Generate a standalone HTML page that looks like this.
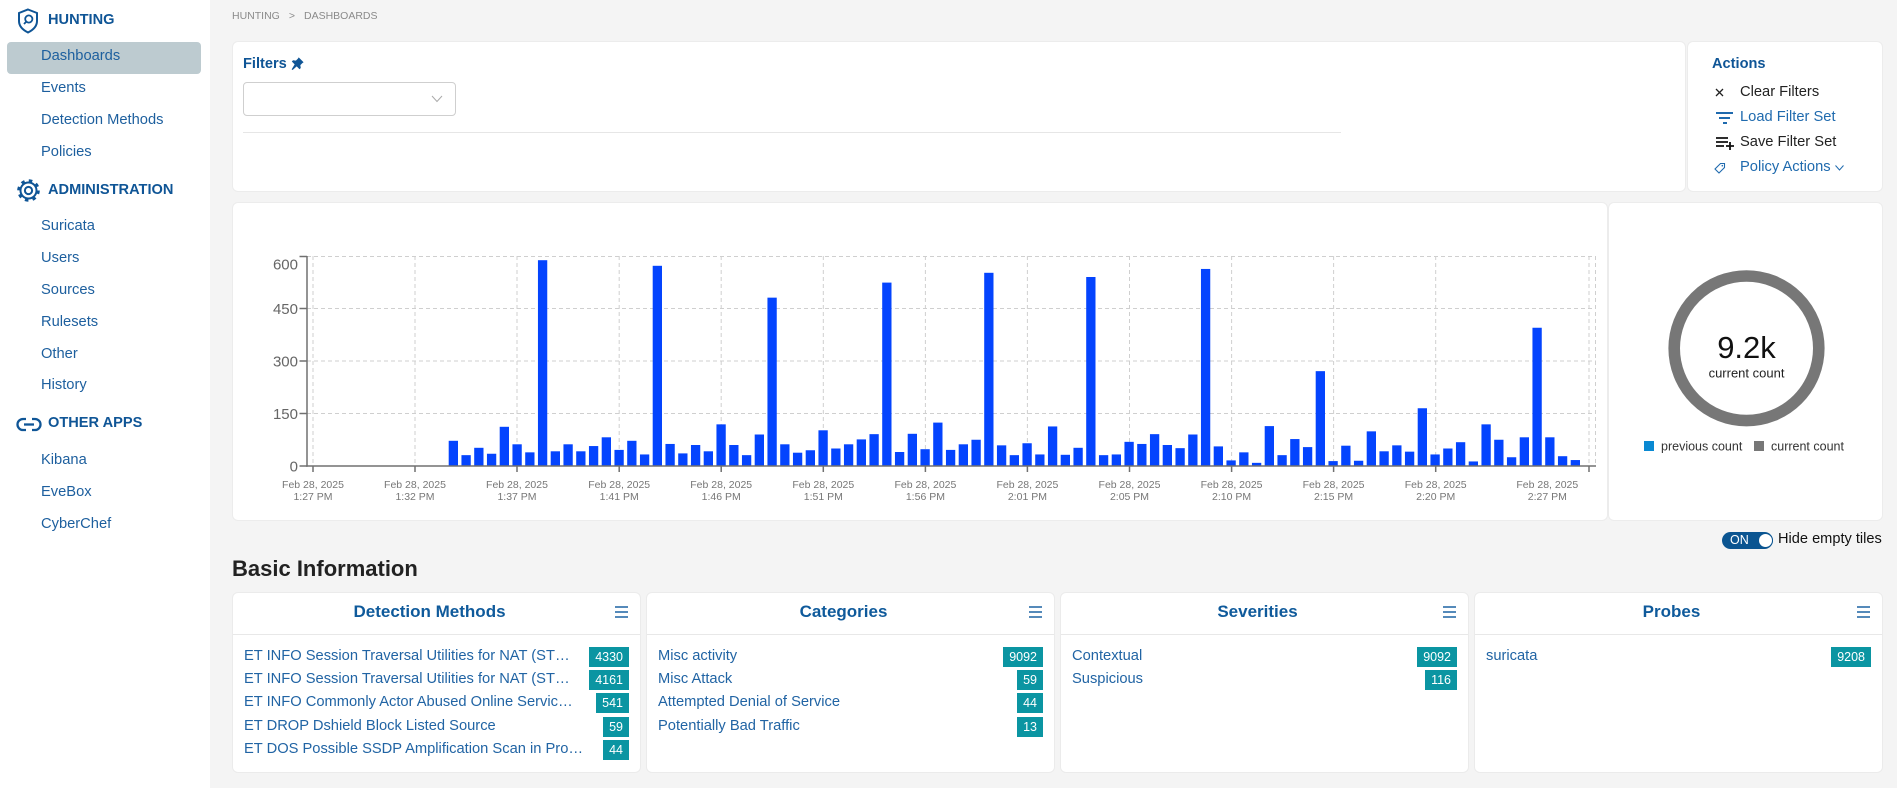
<!DOCTYPE html>
<html><head><meta charset="utf-8">
<style>
*{box-sizing:border-box;margin:0;padding:0}
html,body{width:1897px;height:788px;overflow:hidden}
body{position:relative;background:#f4f4f4;font-family:"Liberation Sans",Arial,sans-serif;color:#222}
.abs{position:absolute}
#side{position:absolute;left:0;top:0;width:210px;height:788px;background:#fff}
.sh{position:absolute;left:48px;font-weight:bold;font-size:14.6px;line-height:20px;color:#0f5596;white-space:nowrap}
.si{position:absolute;left:41px;font-size:14.7px;line-height:20px;color:#1d5f9e;white-space:nowrap}
.hl{position:absolute;left:7px;top:42px;width:194px;height:32px;background:#bdcbd0;border-radius:4px}
.card{position:absolute;background:#fff;border-radius:5px;box-shadow:0 0 0 1px #ececec}
.lbl{position:absolute;font-size:14.7px;line-height:20px;white-space:nowrap}
.tile{position:absolute;top:593px;width:407px;height:179px;background:#fff;border-radius:5px;box-shadow:0 0 0 1px #ebebeb}
.tile .t{position:absolute;left:11px;top:8px;width:371px;text-align:center;font-weight:bold;font-size:17px;line-height:22px;color:#0f5a9b}
.tile .m{position:absolute;left:382px;top:13px;width:13px;height:12px}
.tile .hr{position:absolute;left:0;right:0;top:41px;height:1px;background:#e8e8e8}
.row{position:absolute;left:11px;right:11px;height:20px;display:flex;align-items:center}
.row .n{flex:1;min-width:0;white-space:nowrap;overflow:hidden;text-overflow:ellipsis;font-size:14.7px;line-height:20px;color:#2164a4;margin-right:16px;position:relative;top:-1px}
.row .b{background:#0b95a2;color:#fff;font-size:12.5px;line-height:20px;height:20px;padding:0 6px;flex:none}
</style></head><body>

<div id="side">
  <svg class="abs" style="left:17px;top:8px" width="22" height="26" viewBox="0 0 22 26">
    <path d="M11 1.5 L20 5 V13 C20 18.5 16 22 11 24.5 C6 22 2 18.5 2 13 V5 Z" fill="none" stroke="#0f5596" stroke-width="2"/>
    <circle cx="11.8" cy="11" r="3.6" fill="none" stroke="#0f5596" stroke-width="1.8"/>
    <line x1="9.3" y1="13.6" x2="7" y2="16" stroke="#0f5596" stroke-width="1.8"/>
  </svg>
  <div class="sh" style="top:10px">HUNTING</div>
  <div class="hl"></div>
  <div class="si" style="top:46px">Dashboards</div>
  <div class="si" style="top:78px">Events</div>
  <div class="si" style="top:110px">Detection Methods</div>
  <div class="si" style="top:142px">Policies</div>

  <svg class="abs" style="left:17px;top:179px" width="23" height="23" viewBox="0 0 23 23">
    <circle cx="11.5" cy="11.5" r="8" fill="none" stroke="#0f5596" stroke-width="2"/>
    <circle cx="11.5" cy="11.5" r="9.6" fill="none" stroke="#0f5596" stroke-width="3.4" stroke-dasharray="3.4 4.14"/>
    <circle cx="11.5" cy="11.5" r="5.3" fill="#fff"/>
    <circle cx="11.5" cy="11.5" r="3.6" fill="none" stroke="#0f5596" stroke-width="2"/>
  </svg>
  <div class="sh" style="top:180px">ADMINISTRATION</div>
  <div class="si" style="top:216px">Suricata</div>
  <div class="si" style="top:248px">Users</div>
  <div class="si" style="top:280px">Sources</div>
  <div class="si" style="top:312px">Rulesets</div>
  <div class="si" style="top:344px">Other</div>
  <div class="si" style="top:375px">History</div>

  <svg class="abs" style="left:16px;top:417px" width="26" height="15" viewBox="0 0 26 15">
    <path d="M10 2 H7 A5.5 5.5 0 0 0 7 13 H10" fill="none" stroke="#0f5596" stroke-width="2.3"/>
    <path d="M16 2 H19 A5.5 5.5 0 0 1 19 13 H16" fill="none" stroke="#0f5596" stroke-width="2.3"/>
    <line x1="8" y1="7.5" x2="18" y2="7.5" stroke="#0f5596" stroke-width="2.3"/>
  </svg>
  <div class="sh" style="top:413px">OTHER APPS</div>
  <div class="si" style="top:450px">Kibana</div>
  <div class="si" style="top:482px">EveBox</div>
  <div class="si" style="top:514px">CyberChef</div>
</div>

<!-- breadcrumb -->
<div class="abs" style="left:232px;top:9px;font-size:10.5px;line-height:14px;color:#8a8a8a;white-space:nowrap">HUNTING<span style="margin:0 9px">&gt;</span>DASHBOARDS</div>

<!-- Filters card -->
<div class="card" style="left:233px;top:42px;width:1452px;height:149px"></div>
<div class="abs" style="left:243px;top:54px;font-weight:bold;font-size:14.6px;line-height:20px;color:#0f5596">Filters</div>
<svg class="abs" style="left:291px;top:57px" width="13" height="13" viewBox="0 0 16 16">
  <path d="M9.5 0.5 L15.5 6.5 L14 7.5 L11.5 10 L12 13.5 L10.5 15 L7 11.5 L2 16 L0.8 15.2 L4.5 9 L1 5.5 L2.5 4 L6 4.5 L8.5 2 Z" fill="#0f5596"/>
</svg>
<div class="abs" style="left:243px;top:82px;width:213px;height:34px;border:1px solid #cfcfcf;border-radius:4px;background:#fff"></div>
<svg class="abs" style="left:431px;top:95px" width="12" height="8" viewBox="0 0 12 8"><polyline points="1,1 6,6.5 11,1" fill="none" stroke="#aaa" stroke-width="1"/></svg>
<div class="abs" style="left:243px;top:132px;width:1098px;height:1px;background:#e6e6e6"></div>

<!-- Actions card -->
<div class="card" style="left:1688px;top:42px;width:194px;height:149px"></div>
<div class="abs" style="left:1712px;top:54px;font-weight:bold;font-size:14.6px;line-height:20px;color:#0f5596">Actions</div>
<svg class="abs" style="left:1714px;top:87px" width="12" height="12" viewBox="0 0 12 12"><path d="M2 2 L9 9 M9 2 L2 9" stroke="#222" stroke-width="1.3"/></svg>
<div class="lbl" style="left:1740px;top:82px;color:#222">Clear Filters</div>
<svg class="abs" style="left:1716px;top:111px" width="18" height="14" viewBox="0 0 18 14"><path d="M0 2 H17 M3 7 H14 M7 12 H11" stroke="#1f6aae" stroke-width="2"/></svg>
<div class="lbl" style="left:1740px;top:107px;color:#1f6aae">Load Filter Set</div>
<svg class="abs" style="left:1716px;top:136px" width="19" height="15" viewBox="0 0 19 15"><path d="M0 2 H12 M0 6 H12 M0 10 H8 M10 10 H18 M14 6 V14" stroke="#111" stroke-width="1.8"/></svg>
<div class="lbl" style="left:1740px;top:132px;color:#222">Save Filter Set</div>
<svg class="abs" style="left:1714px;top:162px" width="12" height="12" viewBox="0 0 12 12"><path d="M6.5 1.5 L10.5 1.5 L10.5 5.5 L5 11 L1 7 Z" fill="none" stroke="#1f6aae" stroke-width="1.1"/><circle cx="8.3" cy="3.7" r="0.8" fill="#1f6aae"/></svg>
<div class="lbl" style="left:1740px;top:157px;color:#1f6aae">Policy Actions</div>
<svg class="abs" style="left:1835px;top:165px" width="9" height="6" viewBox="0 0 9 6"><polyline points="0.5,0.5 4.5,5 8.5,0.5" fill="none" stroke="#1f6aae" stroke-width="1"/></svg>

<!-- Chart cards -->
<div class="card" style="left:233px;top:203px;width:1374px;height:317px"></div>
<div class="card" style="left:1609px;top:203px;width:273px;height:317px"></div>

<svg class="abs" style="left:0;top:0" width="1897" height="788" viewBox="0 0 1897 788" font-family="Liberation Sans, Arial, sans-serif">
  <g stroke="#cfcfcf" stroke-width="1" stroke-dasharray="4 3" fill="none">
    <line x1="307" y1="256.5" x2="1596" y2="256.5"/>
    <line x1="307" y1="308.5" x2="1596" y2="308.5"/>
    <line x1="307" y1="361" x2="1596" y2="361"/>
    <line x1="307" y1="413.5" x2="1596" y2="413.5"/>
    <line x1="313" y1="256" x2="313" y2="466"/>
    <line x1="415" y1="256" x2="415" y2="466"/>
    <line x1="517" y1="256" x2="517" y2="466"/>
    <line x1="619.2" y1="256" x2="619.2" y2="466"/>
    <line x1="721.2" y1="256" x2="721.2" y2="466"/>
    <line x1="823.3" y1="256" x2="823.3" y2="466"/>
    <line x1="925.4" y1="256" x2="925.4" y2="466"/>
    <line x1="1027.4" y1="256" x2="1027.4" y2="466"/>
    <line x1="1129.5" y1="256" x2="1129.5" y2="466"/>
    <line x1="1231.6" y1="256" x2="1231.6" y2="466"/>
    <line x1="1333.6" y1="256" x2="1333.6" y2="466"/>
    <line x1="1435.7" y1="256" x2="1435.7" y2="466"/>
    <line x1="1589" y1="256" x2="1589" y2="466"/>
    <line x1="1595.5" y1="256" x2="1595.5" y2="466"/>
  </g>
  <g fill="#0444fe">
    <rect x="448.7" y="440.8" width="9.3" height="25.2"/>
    <rect x="461.45" y="455.15" width="9.3" height="10.85"/>
    <rect x="474.2" y="447.8" width="9.3" height="18.2"/>
    <rect x="486.95" y="453.75" width="9.3" height="12.25"/>
    <rect x="499.7" y="426.8" width="9.3" height="39.2"/>
    <rect x="512.45" y="444.3" width="9.3" height="21.7"/>
    <rect x="525.2" y="452.35" width="9.3" height="13.65"/>
    <rect x="537.95" y="260.2" width="9.3" height="205.8"/>
    <rect x="550.7" y="451.3" width="9.3" height="14.7"/>
    <rect x="563.45" y="444.3" width="9.3" height="21.7"/>
    <rect x="576.2" y="451.3" width="9.3" height="14.7"/>
    <rect x="588.95" y="446.05" width="9.3" height="19.95"/>
    <rect x="601.7" y="437.3" width="9.3" height="28.7"/>
    <rect x="614.45" y="449.9" width="9.3" height="16.1"/>
    <rect x="627.2" y="440.8" width="9.3" height="25.2"/>
    <rect x="639.95" y="454.45" width="9.3" height="11.55"/>
    <rect x="652.7" y="265.8" width="9.3" height="200.2"/>
    <rect x="665.45" y="443.95" width="9.3" height="22.05"/>
    <rect x="678.2" y="453.4" width="9.3" height="12.6"/>
    <rect x="690.95" y="445" width="9.3" height="21"/>
    <rect x="703.7" y="451.3" width="9.3" height="14.7"/>
    <rect x="716.45" y="424.35" width="9.3" height="41.65"/>
    <rect x="729.2" y="445" width="9.3" height="21"/>
    <rect x="741.95" y="455.15" width="9.3" height="10.85"/>
    <rect x="754.7" y="434.5" width="9.3" height="31.5"/>
    <rect x="767.45" y="297.65" width="9.3" height="168.35"/>
    <rect x="780.2" y="444.3" width="9.3" height="21.7"/>
    <rect x="792.95" y="452.7" width="9.3" height="13.3"/>
    <rect x="805.7" y="450.25" width="9.3" height="15.75"/>
    <rect x="818.45" y="430.3" width="9.3" height="35.7"/>
    <rect x="831.2" y="448.5" width="9.3" height="17.5"/>
    <rect x="843.95" y="444.3" width="9.3" height="21.7"/>
    <rect x="856.7" y="439.4" width="9.3" height="26.6"/>
    <rect x="869.45" y="434.15" width="9.3" height="31.85"/>
    <rect x="882.2" y="282.6" width="9.3" height="183.4"/>
    <rect x="894.95" y="452" width="9.3" height="14"/>
    <rect x="907.7" y="433.8" width="9.3" height="32.2"/>
    <rect x="920.45" y="449.2" width="9.3" height="16.8"/>
    <rect x="933.2" y="422.6" width="9.3" height="43.4"/>
    <rect x="945.95" y="449.9" width="9.3" height="16.1"/>
    <rect x="958.7" y="444.3" width="9.3" height="21.7"/>
    <rect x="971.45" y="439.75" width="9.3" height="26.25"/>
    <rect x="984.2" y="272.8" width="9.3" height="193.2"/>
    <rect x="996.95" y="445.35" width="9.3" height="20.65"/>
    <rect x="1009.7" y="455.15" width="9.3" height="10.85"/>
    <rect x="1022.45" y="443.25" width="9.3" height="22.75"/>
    <rect x="1035.2" y="454.45" width="9.3" height="11.55"/>
    <rect x="1047.95" y="426.45" width="9.3" height="39.55"/>
    <rect x="1060.7" y="454.8" width="9.3" height="11.2"/>
    <rect x="1073.45" y="447.8" width="9.3" height="18.2"/>
    <rect x="1086.2" y="277" width="9.3" height="189"/>
    <rect x="1098.95" y="455.15" width="9.3" height="10.85"/>
    <rect x="1111.7" y="454.45" width="9.3" height="11.55"/>
    <rect x="1124.45" y="441.85" width="9.3" height="24.15"/>
    <rect x="1137.2" y="443.95" width="9.3" height="22.05"/>
    <rect x="1149.95" y="434.15" width="9.3" height="31.85"/>
    <rect x="1162.7" y="445" width="9.3" height="21"/>
    <rect x="1175.45" y="448.15" width="9.3" height="17.85"/>
    <rect x="1188.2" y="434.5" width="9.3" height="31.5"/>
    <rect x="1200.95" y="268.95" width="9.3" height="197.05"/>
    <rect x="1213.7" y="446.4" width="9.3" height="19.6"/>
    <rect x="1226.45" y="460.4" width="9.3" height="5.6"/>
    <rect x="1239.2" y="452.35" width="9.3" height="13.65"/>
    <rect x="1251.95" y="462.85" width="9.3" height="3.15"/>
    <rect x="1264.7" y="426.1" width="9.3" height="39.9"/>
    <rect x="1277.45" y="455.15" width="9.3" height="10.85"/>
    <rect x="1290.2" y="439.05" width="9.3" height="26.95"/>
    <rect x="1302.95" y="447.1" width="9.3" height="18.9"/>
    <rect x="1315.7" y="371.15" width="9.3" height="94.85"/>
    <rect x="1328.45" y="461.1" width="9.3" height="4.9"/>
    <rect x="1341.2" y="445.7" width="9.3" height="20.3"/>
    <rect x="1353.95" y="460.75" width="9.3" height="5.25"/>
    <rect x="1366.7" y="431.35" width="9.3" height="34.65"/>
    <rect x="1379.45" y="451.3" width="9.3" height="14.7"/>
    <rect x="1392.2" y="445.35" width="9.3" height="20.65"/>
    <rect x="1404.95" y="451.65" width="9.3" height="14.35"/>
    <rect x="1417.7" y="408.25" width="9.3" height="57.75"/>
    <rect x="1430.45" y="454.45" width="9.3" height="11.55"/>
    <rect x="1443.2" y="448.5" width="9.3" height="17.5"/>
    <rect x="1455.95" y="442.2" width="9.3" height="23.8"/>
    <rect x="1468.7" y="461.45" width="9.3" height="4.55"/>
    <rect x="1481.45" y="424.35" width="9.3" height="41.65"/>
    <rect x="1494.2" y="439.75" width="9.3" height="26.25"/>
    <rect x="1506.95" y="457.25" width="9.3" height="8.75"/>
    <rect x="1519.7" y="437.3" width="9.3" height="28.7"/>
    <rect x="1532.45" y="327.75" width="9.3" height="138.25"/>
    <rect x="1545.2" y="437.3" width="9.3" height="28.7"/>
    <rect x="1557.95" y="456.2" width="9.3" height="9.8"/>
    <rect x="1570.7" y="460.05" width="9.3" height="5.95"/>
  </g>
  <g stroke="#707070" stroke-width="1.5" fill="none">
    <line x1="307" y1="256" x2="307" y2="466.7"/>
    <line x1="306.3" y1="466" x2="1596" y2="466"/>
    <line x1="299.5" y1="256.5" x2="307" y2="256.5"/>
    <line x1="299.5" y1="308.5" x2="307" y2="308.5"/>
    <line x1="299.5" y1="361" x2="307" y2="361"/>
    <line x1="299.5" y1="413.5" x2="307" y2="413.5"/>
    <line x1="299.5" y1="466" x2="307" y2="466"/>
    <line x1="313" y1="466" x2="313" y2="472"/>
    <line x1="415" y1="466" x2="415" y2="472"/>
    <line x1="517" y1="466" x2="517" y2="472"/>
    <line x1="619.2" y1="466" x2="619.2" y2="472"/>
    <line x1="721.2" y1="466" x2="721.2" y2="472"/>
    <line x1="823.3" y1="466" x2="823.3" y2="472"/>
    <line x1="925.4" y1="466" x2="925.4" y2="472"/>
    <line x1="1027.4" y1="466" x2="1027.4" y2="472"/>
    <line x1="1129.5" y1="466" x2="1129.5" y2="472"/>
    <line x1="1231.6" y1="466" x2="1231.6" y2="472"/>
    <line x1="1333.6" y1="466" x2="1333.6" y2="472"/>
    <line x1="1435.7" y1="466" x2="1435.7" y2="472"/>
    <line x1="1589" y1="466" x2="1589" y2="472"/>
  </g>
  <g fill="#666" font-size="15" text-anchor="end">
    <text x="298" y="269.5">600</text>
    <text x="298" y="314">450</text>
    <text x="298" y="366.5">300</text>
    <text x="298" y="419">150</text>
    <text x="298" y="471.5">0</text>
  </g>
  <g fill="#777" font-size="10.5" text-anchor="middle">
    <text x="313" y="488">Feb 28, 2025</text><text x="313" y="500">1:27 PM</text>
    <text x="415" y="488">Feb 28, 2025</text><text x="415" y="500">1:32 PM</text>
    <text x="517" y="488">Feb 28, 2025</text><text x="517" y="500">1:37 PM</text>
    <text x="619.2" y="488">Feb 28, 2025</text><text x="619.2" y="500">1:41 PM</text>
    <text x="721.2" y="488">Feb 28, 2025</text><text x="721.2" y="500">1:46 PM</text>
    <text x="823.3" y="488">Feb 28, 2025</text><text x="823.3" y="500">1:51 PM</text>
    <text x="925.4" y="488">Feb 28, 2025</text><text x="925.4" y="500">1:56 PM</text>
    <text x="1027.4" y="488">Feb 28, 2025</text><text x="1027.4" y="500">2:01 PM</text>
    <text x="1129.5" y="488">Feb 28, 2025</text><text x="1129.5" y="500">2:05 PM</text>
    <text x="1231.6" y="488">Feb 28, 2025</text><text x="1231.6" y="500">2:10 PM</text>
    <text x="1333.6" y="488">Feb 28, 2025</text><text x="1333.6" y="500">2:15 PM</text>
    <text x="1435.7" y="488">Feb 28, 2025</text><text x="1435.7" y="500">2:20 PM</text>
    <text x="1547.3" y="488">Feb 28, 2025</text><text x="1547.3" y="500">2:27 PM</text>
  </g>

  <!-- donut -->
  <circle cx="1746.5" cy="348.3" r="72.3" fill="none" stroke="#777" stroke-width="11.6"/>
  <text x="1746.5" y="358" text-anchor="middle" font-size="31" fill="#111">9.2k</text>
  <text x="1746.5" y="377.5" text-anchor="middle" font-size="13" fill="#222">current count</text>
  <rect x="1644" y="441" width="10" height="10" fill="#0a89d2"/>
  <text x="1661" y="450.5" font-size="12.5" fill="#333">previous count</text>
  <rect x="1754" y="441" width="10" height="10" fill="#777"/>
  <text x="1771" y="450.5" font-size="12.5" fill="#333">current count</text>
</svg>

<!-- toggle -->
<div class="abs" style="left:1722px;top:532px;width:51px;height:17px;border-radius:9px;background:#0b5591"></div>
<div class="abs" style="left:1730px;top:532px;font-size:12.5px;line-height:17px;color:#fff">ON</div>
<div class="abs" style="left:1758px;top:533px;width:15px;height:15px;border-radius:50%;background:#fff;border:1px solid #0b5591"></div>
<div class="abs" style="left:1778px;top:529px;font-size:14.6px;line-height:20px;color:#111;white-space:nowrap">Hide empty tiles</div>

<div class="abs" style="left:232px;top:556px;font-weight:bold;font-size:22px;line-height:26px;color:#222;white-space:nowrap">Basic Information</div>

<!-- tiles -->
<div class="tile" style="left:233px">
  <div class="t">Detection Methods</div>
  <svg class="m" viewBox="0 0 13 12"><path d="M0 1 H13 M0 6 H13 M0 11 H13" stroke="#1d63a3" stroke-width="1.4"/></svg>
  <div class="hr"></div>
  <div class="row" style="top:54px"><span class="n">ET INFO Session Traversal Utilities for NAT (STUN Binding Request)</span><span class="b">4330</span></div>
  <div class="row" style="top:77px"><span class="n">ET INFO Session Traversal Utilities for NAT (STUN Binding Response)</span><span class="b">4161</span></div>
  <div class="row" style="top:100px"><span class="n">ET INFO Commonly Actor Abused Online Service Domain</span><span class="b">541</span></div>
  <div class="row" style="top:124px"><span class="n">ET DROP Dshield Block Listed Source</span><span class="b">59</span></div>
  <div class="row" style="top:147px"><span class="n">ET DOS Possible SSDP Amplification Scan in Progress</span><span class="b">44</span></div>
</div>

<div class="tile" style="left:647px">
  <div class="t">Categories</div>
  <svg class="m" viewBox="0 0 13 12"><path d="M0 1 H13 M0 6 H13 M0 11 H13" stroke="#1d63a3" stroke-width="1.4"/></svg>
  <div class="hr"></div>
  <div class="row" style="top:54px"><span class="n">Misc activity</span><span class="b">9092</span></div>
  <div class="row" style="top:77px"><span class="n">Misc Attack</span><span class="b">59</span></div>
  <div class="row" style="top:100px"><span class="n">Attempted Denial of Service</span><span class="b">44</span></div>
  <div class="row" style="top:124px"><span class="n">Potentially Bad Traffic</span><span class="b">13</span></div>
</div>

<div class="tile" style="left:1061px">
  <div class="t">Severities</div>
  <svg class="m" viewBox="0 0 13 12"><path d="M0 1 H13 M0 6 H13 M0 11 H13" stroke="#1d63a3" stroke-width="1.4"/></svg>
  <div class="hr"></div>
  <div class="row" style="top:54px"><span class="n">Contextual</span><span class="b">9092</span></div>
  <div class="row" style="top:77px"><span class="n">Suspicious</span><span class="b">116</span></div>
</div>

<div class="tile" style="left:1475px">
  <div class="t">Probes</div>
  <svg class="m" viewBox="0 0 13 12"><path d="M0 1 H13 M0 6 H13 M0 11 H13" stroke="#1d63a3" stroke-width="1.4"/></svg>
  <div class="hr"></div>
  <div class="row" style="top:54px"><span class="n">suricata</span><span class="b">9208</span></div>
</div>

</body></html>
